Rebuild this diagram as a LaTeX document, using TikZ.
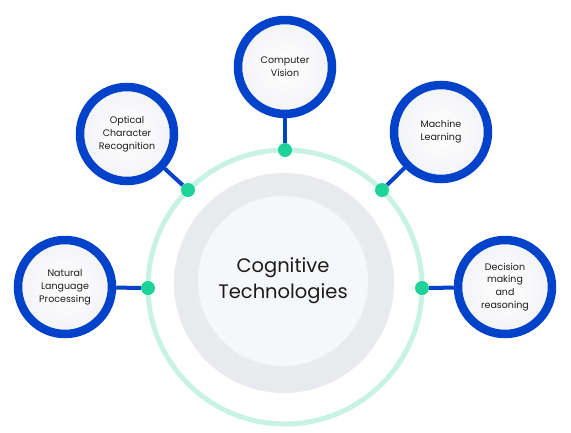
\documentclass[tikz,border=0pt]{standalone}
\usepackage{fontspec}
\setmainfont{Poppins}
\usetikzlibrary{positioning}
\definecolor{satblue}{HTML}{0042C9}
\definecolor{dotgreen}{HTML}{1DD39A}
\definecolor{mint}{HTML}{C8F3E4}
\definecolor{coregray}{HTML}{E9EAED}
\definecolor{corelight}{HTML}{F6F7F9}
\definecolor{inkgray}{HTML}{1C1C1C}

\begin{document}
\begin{tikzpicture}[
    x=1pt, y=-1pt,
    sat/.style={circle, draw=satblue, line width=8.5pt, inner color=white,
      outer color=corelight!70!coregray, minimum size=94pt, inner sep=0pt,
      align=center, text=inkgray, font=\fontsize{9.5}{12.8}\selectfont},
    dot/.style={circle, fill=dotgreen, minimum size=14pt, inner sep=0pt},
    link/.style={draw=satblue, line width=4pt},
    ring/.style={draw=mint, line width=5pt}
  ]
    \useasboundingbox (0,0) rectangle (571,432);
    % outer ring and core
    \draw[ring] (285,287) circle[radius=137];
    \node[circle, inner color=coregray!80!corelight, outer color=coregray,
      minimum size=220pt, inner sep=0pt] (coreout) at (284,283) {};
    \node[circle, fill=corelight, minimum size=170pt, inner sep=0pt, align=center,
      text=inkgray, font=\fontsize{19.5}{26}\selectfont] (core) at (283,281)
      {Cognitive\\Technologies};
    % dots on the ring
    \node[dot] (dcv) at (285,150) {};
    \node[dot] (docr) at (188,190) {};
    \node[dot] (dml) at (382,190) {};
    \node[dot] (dnlp) at (148,288) {};
    \node[dot] (ddm) at (422,288) {};
    % satellites
    \node[sat] (cv) at (285,67) {Computer\\Vision};
    \node[sat] (ocr) at (127,134) {Optical\\Character\\Recognition};
    \node[sat] (ml) at (441,132) {Machine\\Learning};
    \node[sat] (nlp) at (65,287) {Natural\\Language\\Processing};
    \node[sat] (dm) at (505,287) {Decision\\making\\and\\reasoning};
    \draw[link] (cv) -- (dcv);
    \draw[link] (ocr) -- (docr);
    \draw[link] (ml) -- (dml);
    \draw[link] (nlp) -- (dnlp);
    \draw[link] (dm) -- (ddm);
  \end{tikzpicture}
\end{document}
